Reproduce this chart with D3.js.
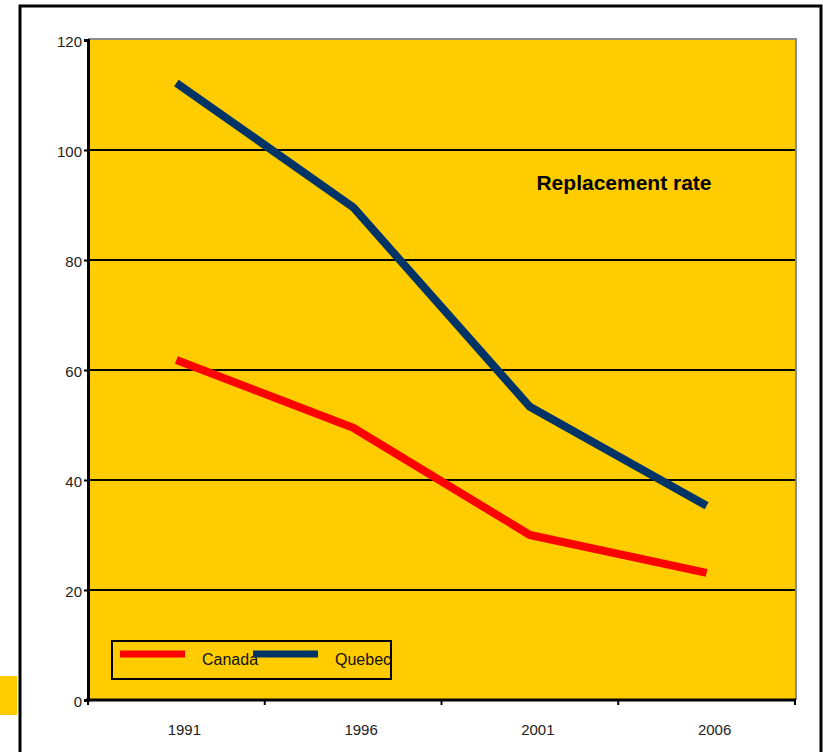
<!DOCTYPE html>
<html>
<head>
<meta charset="utf-8">
<script src="https://cdn.jsdelivr.net/npm/d3@7"></script>
<style>
  body { margin: 0; background: #fff; }
  svg { display: block; }
  text { font-family: "Liberation Sans", Arial, sans-serif; }
</style>
</head>
<body>
<div id="chart-area"></div>
<script>
// Chart data
var years = ["1991", "1996", "2001", "2006"];
var canada = [61.8, 49.5, 30.0, 23.1];
var quebec = [112.2, 89.6, 53.3, 35.3];
var yTicks = [0, 20, 40, 60, 80, 100, 120];
var seriesNames = ["Canada", "Quebec"];
var seriesColors = ["#FF0000", "#003366"];
var chartTitle = "Replacement rate";

var width = 823, height = 752;
var plotLeft = 88, plotRight = 795, plotTop = 40, plotBottom = 700;

var svg = d3.select("#chart-area")
		.append("svg")
		.attr("width", width)
		.attr("height", height);

// outer frame and the stray yellow block on the left
svg.append("rect")
		.attr("x", 20).attr("y", 6)
		.attr("width", 801).attr("height", 770)
		.attr("fill", "none")
		.attr("stroke", "#000")
		.attr("stroke-width", 3);
svg.append("rect")
		.attr("x", 0).attr("y", 676)
		.attr("width", 17).attr("height", 39)
		.attr("fill", "#FFCC00");

var xBand = d3.scaleBand()
		.domain(years)
		.range([plotLeft, plotRight])
		.padding(0);

var yScale = d3.scaleLinear()
		.domain([0, 120])
		.range([plotBottom, plotTop]);

// plot area
svg.append("rect")
		.attr("x", plotLeft).attr("y", plotTop)
		.attr("width", plotRight - plotLeft).attr("height", plotBottom - plotTop)
		.attr("fill", "#FFCC00");
svg.append("path")
		.attr("d", "M" + plotLeft + "," + (plotTop - 1) + "H" + (plotRight + 1) + "V" + plotBottom)
		.attr("fill", "none")
		.attr("stroke", "#8c8c8c")
		.attr("stroke-width", 2);

// gridlines
svg.append("g")
		.selectAll("line")
		.data(yTicks.filter(function(d){ return d > 0 && d < 120; }))
		.enter()
		.append("line")
		.attr("x1", plotLeft).attr("x2", plotRight)
		.attr("y1", function(d){ return yScale(d); })
		.attr("y2", function(d){ return yScale(d); })
		.attr("stroke", "#000")
		.attr("stroke-width", 2);

// series lines
var line = d3.line()
		.x(function(d, i){ return xBand(years[i]) + xBand.bandwidth() / 2; })
		.y(function(d){ return yScale(d); });

[canada, quebec].forEach(function(s, i){
	svg.append("path")
			.datum(s)
			.attr("d", line)
			.attr("fill", "none")
			.attr("stroke", seriesColors[i])
			.attr("stroke-width", 8)
			.attr("stroke-linejoin", "bevel");
});

// y axis
var yAxis = d3.axisLeft(yScale)
		.tickValues(yTicks)
		.tickSize(4)
		.tickPadding(2);
var gy = svg.append("g")
		.attr("transform", "translate(" + plotLeft + ",0)")
		.call(yAxis);
gy.select(".domain").attr("stroke", "#000").attr("stroke-width", 3);
gy.selectAll(".tick line").attr("stroke", "#000").attr("stroke-width", 2);
gy.selectAll(".tick text")
		.attr("font-size", 15)
		.attr("fill", "#222")
		.attr("dy", "0.42em")
		.style("font-family", "'Liberation Sans', Arial, sans-serif");

// x axis: labels at band centres, ticks at band edges
var xAxis = d3.axisBottom(xBand)
		.tickSize(0)
		.tickPadding(24);
var gx = svg.append("g")
		.attr("transform", "translate(0," + plotBottom + ")")
		.call(xAxis);
gx.select(".domain").remove();
gx.selectAll(".tick text")
		.attr("font-size", 15)
		.attr("fill", "#222")
		.attr("dx", 8)
		.style("font-family", "'Liberation Sans', Arial, sans-serif");

var edges = years.map(function(d){ return xBand(d); }).concat([plotRight]);
svg.append("line")
		.attr("x1", plotLeft - 2).attr("x2", plotRight + 1)
		.attr("y1", plotBottom).attr("y2", plotBottom)
		.attr("stroke", "#000").attr("stroke-width", 3);
svg.append("g")
		.selectAll("line")
		.data(edges)
		.enter()
		.append("line")
		.attr("x1", function(d){ return d; })
		.attr("x2", function(d){ return d; })
		.attr("y1", plotBottom).attr("y2", plotBottom + 5)
		.attr("stroke", "#000")
		.attr("stroke-width", 2);

// title
svg.append("text")
		.text(chartTitle)
		.attr("x", 624)
		.attr("y", 190)
		.attr("text-anchor", "middle")
		.attr("font-size", 21)
		.attr("font-weight", "bold")
		.attr("fill", "#000");

// legend
var legend = svg.append("g");
legend.append("rect")
		.attr("x", 112).attr("y", 641)
		.attr("width", 279).attr("height", 38)
		.attr("fill", "none")
		.attr("stroke", "#000")
		.attr("stroke-width", 2);
seriesNames.forEach(function(name, i){
	var x0 = 120 + i * 133;
	legend.append("line")
			.attr("x1", x0).attr("x2", x0 + 65)
			.attr("y1", 654).attr("y2", 654)
			.attr("stroke", seriesColors[i])
			.attr("stroke-width", 7);
	legend.append("text")
			.text(name)
			.attr("x", x0 + 82)
			.attr("y", 665)
			.attr("font-size", 16)
			.attr("fill", "#111");
});
</script>
</body>
</html>
